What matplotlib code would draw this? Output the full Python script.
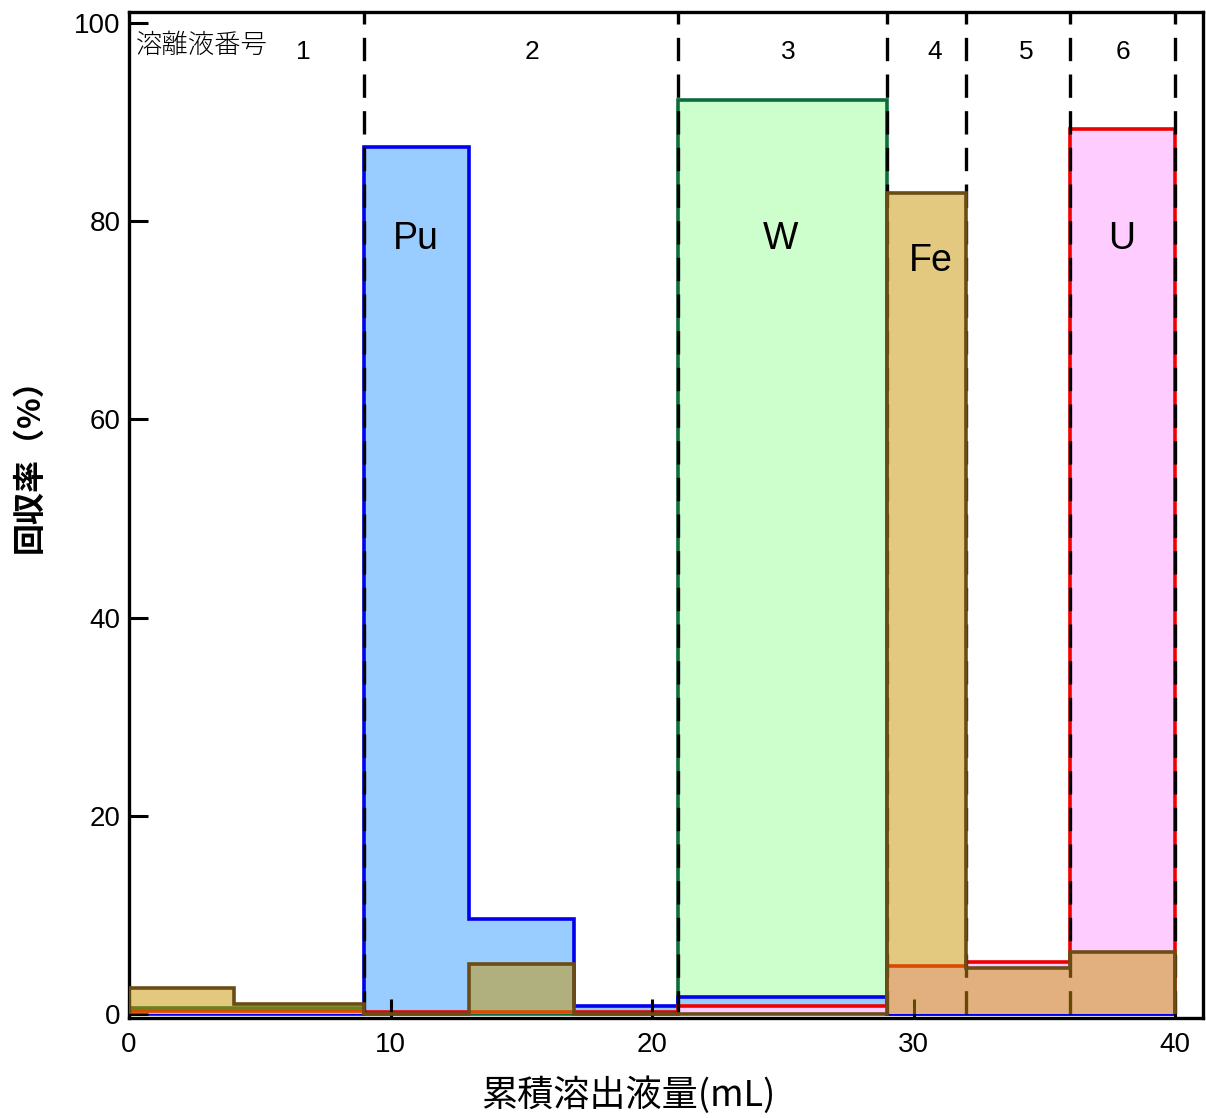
import matplotlib
matplotlib.use("Agg")
import matplotlib.pyplot as plt

# Fraction boundaries (cumulative eluate volume, mL)
edges = [0, 4, 9, 13, 17, 21, 29, 32, 36, 40]

# Recovery (%) of each element per fraction step
pu = [0, 0, 87.5, 9.6, 0.8, 1.75, 0, 0, 0]
w = [0.6, 0.6, 0, 0, 0, 92.2, 0, 0, 0]
u = [0.3, 0.3, 0.25, 0.25, 0.2, 0.85, 4.8, 5.25, 89.3]
fe = [2.6, 1.0, 0, 5.05, 0, 0, 82.8, 4.65, 6.25]

# Eluate fraction boundaries and numbering
frac_bounds = [9, 21, 29, 32, 36, 40]
frac_labels = ["1", "2", "3", "4", "5", "6"]
frac_label_x = [6.65, 15.4, 25.2, 30.8, 34.3, 38.0]

elements = ["Pu", "W", "Fe", "U"]
element_label_pos = [(10.95, 78.2), (24.9, 78.2), (30.65, 76.0), (37.95, 78.2)]

NUM_FONT = ["Liberation Sans Narrow", "Liberation Sans", "DejaVu Sans"]
JP_FONT = ["Noto Sans CJK JP", "DejaVu Sans"]

fig = plt.figure(figsize=(12.06, 11.18), dpi=100)
ax = fig.add_axes([129 / 1206, 1 - 1018 / 1118, (1203 - 129) / 1206, (1018 - 12) / 1118])
ax.set_xlim(0, 41.07)
ax.set_ylim(-0.4, 101.1)

# W (bottom layer)
ax.stairs(w, edges, baseline=0, fill=True, facecolor="#CCFFCC", edgecolor="none", zorder=1.0)
ax.stairs(w, edges, baseline=0, fill=False, edgecolor="#0E6B3C", linewidth=2.6, zorder=1.05)
# Pu
ax.stairs(pu, edges, baseline=0, fill=True, facecolor="#99CCFF", edgecolor="none", zorder=1.1)
ax.stairs(pu, edges, baseline=0, fill=False, edgecolor="#0000EE", linewidth=2.6, zorder=1.15)
# U
ax.stairs(u, edges, baseline=0, fill=True, facecolor="#FFCCFF", edgecolor="none", zorder=1.2)
ax.stairs(u, edges, baseline=0, fill=False, edgecolor="#EE0000", linewidth=2.6, zorder=1.25)

# Fraction separators
for xb in frac_bounds:
    ax.plot([xb, xb], [0, 101.1], color="black", linewidth=2.4,
            dashes=(7, 4), zorder=1.5, clip_on=False)

# Fe drawn semi-transparent on top of everything else
ax.stairs(fe, edges, baseline=0, fill=True, facecolor="#C79500", alpha=0.5,
          edgecolor="none", zorder=3.0)
ax.stairs(fe, edges, baseline=0, fill=False, edgecolor="#6B4C14", linewidth=2.6, zorder=3.05)

# Labels
for name, (lx, ly) in zip(elements, element_label_pos):
    ax.text(lx, ly, name, ha="center", va="center", fontsize=27,
            family=["Liberation Sans", "DejaVu Sans"], zorder=4)

ax.text(0.25, 97.8, "溶離液番号", ha="left", va="center", fontsize=19,
        family=JP_FONT, fontweight="light", zorder=4)
for lab, lx in zip(frac_labels, frac_label_x):
    ax.text(lx, 97.1, lab, ha="center", va="center", fontsize=19,
            family=NUM_FONT, zorder=4)

# Axes styling
for side in ["left", "right", "top", "bottom"]:
    ax.spines[side].set_linewidth(2.4)
ax.set_xticks([0, 10, 20, 30, 40])
ax.set_yticks([0, 20, 40, 60, 80, 100])
ax.tick_params(axis="both", direction="in", length=14, width=2.2,
               labelsize=20, top=False, right=False)
ax.tick_params(axis="y", pad=6)
ax.tick_params(axis="x", pad=10)
for t in ax.get_xticklabels() + ax.get_yticklabels():
    t.set_family(NUM_FONT)

fig.text(30 / 1206, 1 - 458 / 1118, "回収率（%）", rotation=90, ha="center", va="center",
         fontsize=23, fontweight="bold", family=JP_FONT)
fig.text(628 / 1206, 1 - 1095 / 1118, "累積溶出液量(mL)", ha="center", va="center",
         fontsize=26, family=JP_FONT)

fig.savefig("out.png", dpi=100)
